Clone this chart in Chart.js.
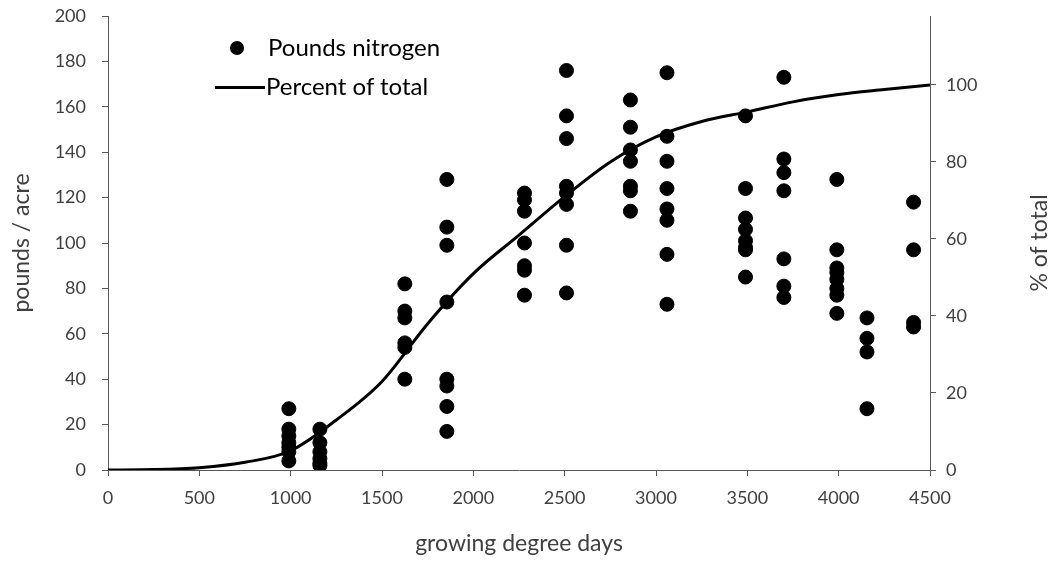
<!DOCTYPE html>
<html>
<head>
<meta charset="utf-8">
<script src="https://cdn.jsdelivr.net/npm/chart.js@4/dist/chart.umd.min.js"></script>
<style>
  html, body { margin: 0; padding: 0; background: #fff; }
  #wrap { position: relative; width: 1052px; height: 561px; }
  #legend { position: absolute; left: 0; top: 0; font-family: Lato, sans-serif; font-size: 24px; color: #000; }
  .item { position: absolute; white-space: nowrap; line-height: 24px; }
  .dot { position: absolute; width: 14px; height: 14px; border-radius: 50%; background: #000; }
  .ln { position: absolute; width: 50px; height: 3px; background: #000; }
</style>
</head>
<body>
<div id="wrap">
  <canvas id="chart" width="1052" height="561"></canvas>
  <div id="legend">
    <div class="dot" style="left:230px;top:41px"></div>
    <div class="item" style="left:268px;top:35px">Pounds nitrogen</div>
    <div class="ln" style="left:215px;top:86px"></div>
    <div class="item" style="left:266px;top:74px">Percent of total</div>
  </div>
</div>
<script>
// sampling dates (growing degree days) and pounds N measured at each
const sampleGdd = [990, 1160, 1625, 1855, 2280, 2510, 2860, 3060, 3490, 3700, 3990, 4155, 4410];
const poundsN = [
    [27, 18, 15, 12, 10, 8, 4],
    [18, 12, 8, 5, 3, 2],
    [82, 70, 67, 56, 54, 40],
    [128, 107, 99, 74, 40, 37, 28, 17],
    [122, 119, 114, 100, 90, 88, 77],
    [176, 156, 146, 125, 122, 117, 99, 78],
    [163, 151, 141, 136, 125, 123, 114],
    [175, 147, 136, 124, 115, 110, 95, 73],
    [156, 124, 111, 106, 101, 98, 97, 85],
    [173, 137, 131, 123, 93, 81, 76],
    [128, 97, 89, 87, 84, 80, 77, 69],
    [67, 58, 52, 27],
    [118, 97, 65, 63]
];

// cumulative uptake curve
const curveGdd = [0, 250, 500, 750, 1000, 1250, 1500, 1750, 2000, 2250, 2500, 2750, 3000, 3250, 3500, 3750, 4000, 4250, 4500];
const curvePct = [0, 0.1, 0.6, 2.0, 5.0, 13, 23, 38, 51, 61, 71, 80, 86.5, 90.5, 93, 95.6, 97.5, 98.8, 100];

const xTicks = [0, 500, 1000, 1500, 2000, 2500, 3000, 3500, 4000, 4500];

const points = [];
sampleGdd.forEach((g, i) => poundsN[i].forEach(v => points.push({ x: g, y: v })));
const curve = curveGdd.map((g, i) => ({ x: g, y: curvePct[i] }));

const axisCol = '#595959';
const textCol = '#404040';
const tickFont = { family: 'Lato, sans-serif', size: 18 };
const titleFont = { family: 'Lato, sans-serif', size: 23 };

// right-hand title reads bottom-to-top like the left one
const rightTitle = {
    id: 'rightTitle',
    afterDraw(chart) {
        const { ctx, chartArea } = chart;
        ctx.save();
        ctx.translate(1040, (chartArea.top + chartArea.bottom) / 2);
        ctx.rotate(-Math.PI / 2);
        ctx.font = '23px Lato, sans-serif';
        ctx.fillStyle = textCol;
        ctx.textAlign = 'center';
        ctx.textBaseline = 'middle';
        ctx.fillText('% of total', 0, 0);
        ctx.restore();
    }
};

const fitY = w => s => { s.width = w; s.paddingTop = 0; s.paddingBottom = 0; };

new Chart(document.getElementById('chart'), {
    type: 'scatter',
    data: {
        datasets: [
            { label: 'Pounds nitrogen', data: points, yAxisID: 'y', backgroundColor: '#000', borderColor: '#000', pointRadius: 7, pointHoverRadius: 7, order: 1 },
            { type: 'line', label: 'Percent of total', data: curve, yAxisID: 'y2', borderColor: '#000', borderWidth: 3, pointRadius: 0, fill: false, cubicInterpolationMode: 'monotone', order: 0 }
        ]
    },
    options: {
        responsive: false, animation: false,
        layout: { padding: { top: 16, left: 0, right: 0, bottom: 0 } },
        plugins: { legend: { display: false }, tooltip: { enabled: false } },
        scales: {
            x: {
                type: 'linear', min: 0, max: 4500,
                afterBuildTicks: s => { s.ticks = xTicks.map(v => ({ value: v })); },
                afterFit: s => { s.height = 91; s.paddingLeft = 0; s.paddingRight = 0; },
                grid: { drawOnChartArea: false, color: axisCol, tickLength: 6 },
                border: { color: axisCol },
                ticks: { color: textCol, font: tickFont, padding: 11, maxRotation: 0, callback: v => String(v) },
                title: { display: true, text: 'growing degree days', color: textCol, font: titleFont, padding: { top: 6 } }
            },
            y: {
                position: 'left', min: 0, max: 200,
                afterFit: fitY(108),
                grid: { drawOnChartArea: false, color: axisCol, tickLength: 6 },
                border: { color: axisCol },
                ticks: { stepSize: 20, color: textCol, font: tickFont, padding: 16 },
                title: { display: true, text: 'pounds / acre', color: textCol, font: titleFont, padding: { top: 8 } }
            },
            y2: {
                position: 'right', min: 0, max: 117.9,
                afterFit: fitY(122),
                grid: { drawOnChartArea: false, color: axisCol, tickLength: 6 },
                border: { color: axisCol },
                ticks: { stepSize: 20, includeBounds: false, color: textCol, font: tickFont, padding: 10 },
                title: { display: false }
            }
        }
    },
    plugins: [rightTitle]
});
</script>
</body>
</html>
